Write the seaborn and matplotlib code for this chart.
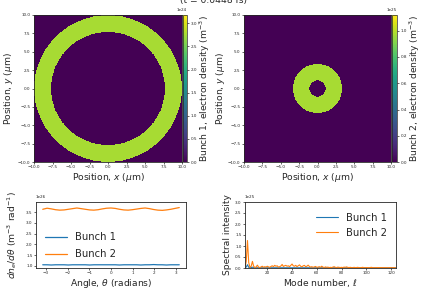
import numpy as np
import pandas as pd
import matplotlib
matplotlib.use("Agg")
import matplotlib.pyplot as plt
import seaborn as sns

sns.set_style("ticks")
plt.rcParams['font.family'] = ['DejaVu Sans']

# ---------------- data ----------------
title_text = "(t = 0.0448 fs)"
# annular bunches: (inner radius, outer radius) in µm, density in m^-3
bunch1_radii = [7.7, 10.0]
bunch1_density = 2.77e24
bunch1_vmax = 3.18e24
bunch2_radii = [1.1, 3.35]
bunch2_density = 0.975e25
bunch2_vmax = 1.12e25
grid_limits = [-10.0, 10.0]
grid_n = 400

theta = [-3.14, -2.94, -2.75, -2.55, -2.36, -2.16, -1.96, -1.77, -1.57, -1.37,
         -1.18, -0.98, -0.79, -0.59, -0.39, -0.20, 0.00, 0.20, 0.39, 0.59,
         0.79, 0.98, 1.18, 1.37, 1.57, 1.77, 1.96, 2.16, 2.36, 2.55,
         2.75, 2.94, 3.14]
dn_bunch1 = [1.05, 1.05, 1.04, 1.05, 1.05, 1.05, 1.04, 1.05, 1.05, 1.05,
             1.05, 1.04, 1.05, 1.05, 1.05, 1.05, 1.05, 1.05, 1.04, 1.05,
             1.05, 1.05, 1.05, 1.04, 1.05, 1.05, 1.06, 1.05, 1.05, 1.04,
             1.05, 1.05, 1.05]
dn_bunch2 = [3.64, 3.69, 3.66, 3.62, 3.60, 3.61, 3.64, 3.67, 3.70, 3.67,
             3.64, 3.61, 3.60, 3.62, 3.66, 3.69, 3.70, 3.68, 3.64, 3.61,
             3.60, 3.62, 3.65, 3.68, 3.70, 3.67, 3.63, 3.60, 3.59, 3.61,
             3.64, 3.68, 3.72]
dn_scale = 1e26

modes = list(range(2, 125))
spec_bunch2 = [0.02, 0.30, 1.25, 0.25, 0.03, 0.08, 0.30, 0.08, 0.02, 0.05,
               0.13, 0.04, 0.02, 0.05, 0.08, 0.03, 0.06, 0.04, 0.08, 0.05,
               0.03, 0.07, 0.10, 0.06, 0.12, 0.08, 0.10, 0.04, 0.06, 0.09,
               0.16, 0.07, 0.10, 0.12, 0.08, 0.10, 0.06, 0.12, 0.18, 0.10,
               0.08, 0.12, 0.06, 0.10, 0.14, 0.08, 0.05, 0.10, 0.12, 0.06,
               0.08, 0.13, 0.07, 0.04, 0.06, 0.03, 0.05, 0.07, 0.03, 0.04,
               0.06, 0.03, 0.08, 0.04, 0.02, 0.05, 0.03, 0.04, 0.02, 0.03,
               0.02, 0.04, 0.06, 0.03, 0.02, 0.04, 0.03, 0.02, 0.03, 0.02,
               0.04, 0.03, 0.05, 0.03, 0.02, 0.03, 0.02, 0.01, 0.03, 0.02,
               0.02, 0.03, 0.02, 0.01, 0.02, 0.03, 0.02, 0.01, 0.02, 0.02,
               0.01, 0.02, 0.03, 0.02, 0.01, 0.02, 0.01, 0.02, 0.02, 0.01,
               0.02, 0.01, 0.02, 0.01, 0.02, 0.01, 0.01, 0.02, 0.01, 0.01,
               0.02, 0.01, 0.01]
spec_bunch1 = [0.02, 0.04, 0.15, 0.03, 0.01, 0.02, 0.04, 0.01] + [0.01] * 115
spec_scale = 1e25

# ---------------- figure ----------------
W, H = 428, 290
fig = plt.figure(figsize=(W / 100, H / 100), dpi=100)


def px_axes(l, t, r, b):
    return fig.add_axes([l / W, 1 - b / H, (r - l) / W, (b - t) / H])


label_fs = 6.6
legend_fs = 7.2
tick_fs = 3


def ring_image(radii, density):
    xs = np.linspace(grid_limits[0], grid_limits[1], grid_n)
    X, Y = np.meshgrid(xs, xs)
    R = np.hypot(X, Y)
    return np.where((R >= radii[0]) & (R <= radii[1]), density, 0.0)


def style_ticks(ax):
    ax.tick_params(labelsize=tick_fs, length=1.5, width=0.5, pad=1)
    for s in ax.spines.values():
        s.set_linewidth(0.6)
    ax.yaxis.get_offset_text().set_fontsize(tick_fs)
    ax.xaxis.get_offset_text().set_fontsize(tick_fs)


def density_panel(l, t, r, b, cb_l, cb_r, radii, density, vmax, cblabel, ylpad):
    ax = px_axes(l, t, r, b)
    cax = px_axes(cb_l, t, cb_r, b)
    img = ring_image(radii, density)
    im = ax.imshow(img, origin="lower", cmap="viridis", vmin=0, vmax=vmax,
                   extent=[grid_limits[0], grid_limits[1], grid_limits[0], grid_limits[1]],
                   aspect="auto", interpolation="nearest")
    ax.set_xticks(np.arange(-10, 10.1, 2.5))
    ax.set_yticks(np.arange(-10, 10.1, 2.5))
    ax.set_xlabel(r"Position, $x$ ($\mu$m)", fontsize=label_fs, labelpad=1)
    ax.set_ylabel(r"Position, $y$ ($\mu$m)", fontsize=label_fs, labelpad=ylpad)
    style_ticks(ax)
    cb = fig.colorbar(im, cax=cax)
    cb.ax.tick_params(labelsize=tick_fs, length=1.5, width=0.5, pad=1)
    cb.ax.yaxis.get_offset_text().set_fontsize(tick_fs)
    cb.set_label(cblabel, fontsize=label_fs, labelpad=0.5)
    cb.outline.set_linewidth(0.5)
    return ax


density_panel(34, 15, 182, 162, 183, 187, bunch1_radii, bunch1_density, bunch1_vmax,
              r"Bunch 1, electron density (m$^{-3}$)", 2)
density_panel(244, 15, 391, 162, 392, 397, bunch2_radii, bunch2_density, bunch2_vmax,
              r"Bunch 2, electron density (m$^{-3}$)", 1)

fig.text(0.5, 0.997, title_text, ha="center", va="center", fontsize=label_fs)

# angular distribution
df_ang = pd.DataFrame({
    "theta": theta * 2,
    "value": [v * dn_scale for v in dn_bunch1] + [v * dn_scale for v in dn_bunch2],
    "bunch": ["Bunch 1"] * len(theta) + ["Bunch 2"] * len(theta),
})
ax3 = px_axes(36, 202, 186, 268)
sns.lineplot(data=df_ang, x="theta", y="value", hue="bunch", ax=ax3,
             palette=["tab:blue", "tab:orange"], linewidth=0.9)
ax3.set_xlim(-3.45, 3.45)
ax3.set_ylim(0.9 * dn_scale, 3.98 * dn_scale)
ax3.set_xlabel(r"Angle, $\theta$ (radians)", fontsize=label_fs, labelpad=1)
ax3.set_ylabel(r"$dn_e/d\theta$ (m$^{-3}$ rad$^{-1}$)", fontsize=label_fs, labelpad=5)
style_ticks(ax3)
ax3.legend(loc="lower left", bbox_to_anchor=(0.0, 0.0), frameon=False,
           fontsize=legend_fs, handlelength=2.2, labelspacing=0.7)

# spectrum
df_spec = pd.DataFrame({
    "mode": modes * 2,
    "value": [v * spec_scale for v in spec_bunch1] + [v * spec_scale for v in spec_bunch2],
    "bunch": ["Bunch 1"] * len(modes) + ["Bunch 2"] * len(modes),
})
ax4 = px_axes(245, 202, 396, 268)
sns.lineplot(data=df_spec, x="mode", y="value", hue="bunch", ax=ax4,
             palette=["tab:blue", "tab:orange"], linewidth=0.8)
ax4.set_xlim(2, 124)
ax4.set_ylim(0, 3.0 * spec_scale)
ax4.set_xticks([20, 40, 60, 80, 100, 120])
ax4.set_xlabel(r"Mode number, $\ell$", fontsize=label_fs, labelpad=1)
ax4.set_ylabel("Spectral intensity", fontsize=label_fs, labelpad=2)
style_ticks(ax4)
ax4.legend(loc="upper right", bbox_to_anchor=(1.0, 0.97), frameon=False,
           fontsize=legend_fs, handlelength=2.2, labelspacing=0.5)

fig.savefig("out.png", dpi=100)
